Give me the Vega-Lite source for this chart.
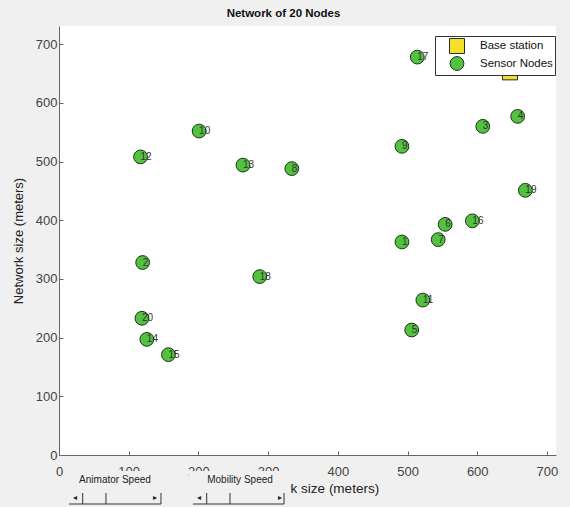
{
  "$schema": "https://vega.github.io/schema/vega-lite/v6.json",
  "width": 497,
  "height": 429,
  "autosize": {"type": "none"},
  "padding": {"left": 59, "top": 26, "right": 14, "bottom": 52},
  "background": "#f0f0f0",
  "config": {
    "view": {"fill": "white", "stroke": null},
    "font": "Liberation Sans"
  },
  "title": {
    "text": "Network of 20 Nodes",
    "fontSize": 11.5,
    "fontWeight": "bold",
    "color": "#111111",
    "offset": 7,
    "anchor": "middle",
    "dx": -24
  },
  "datasets": {
    "nodes": [
      {"id": "1", "x": 492, "y": 363, "type": "Sensor Nodes"},
      {"id": "2", "x": 120, "y": 328, "type": "Sensor Nodes"},
      {"id": "3", "x": 608, "y": 560, "type": "Sensor Nodes"},
      {"id": "4", "x": 658, "y": 577, "type": "Sensor Nodes"},
      {"id": "5", "x": 506, "y": 213, "type": "Sensor Nodes"},
      {"id": "6", "x": 554, "y": 393, "type": "Sensor Nodes"},
      {"id": "7", "x": 544, "y": 367, "type": "Sensor Nodes"},
      {"id": "8", "x": 334, "y": 488, "type": "Sensor Nodes"},
      {"id": "9", "x": 492, "y": 526, "type": "Sensor Nodes"},
      {"id": "10", "x": 201, "y": 552, "type": "Sensor Nodes"},
      {"id": "11", "x": 522, "y": 264, "type": "Sensor Nodes"},
      {"id": "12", "x": 117, "y": 508, "type": "Sensor Nodes"},
      {"id": "13", "x": 264, "y": 494, "type": "Sensor Nodes"},
      {"id": "14", "x": 126, "y": 197, "type": "Sensor Nodes"},
      {"id": "15", "x": 157, "y": 171, "type": "Sensor Nodes"},
      {"id": "16", "x": 593, "y": 399, "type": "Sensor Nodes"},
      {"id": "17", "x": 514, "y": 678, "type": "Sensor Nodes"},
      {"id": "18", "x": 288, "y": 304, "type": "Sensor Nodes"},
      {"id": "19", "x": 669, "y": 451, "type": "Sensor Nodes"},
      {"id": "20", "x": 119, "y": 233, "type": "Sensor Nodes"},
      {"id": "BS", "x": 647, "y": 652, "type": "Base station"}
    ],
    "panels": [
      {"x": 10, "xe": 153.5, "y": -27.3, "ye": -90},
      {"x": 186.5, "xe": 332, "y": -27.3, "ye": -90}
    ],
    "lines": [
      {"x": 14.3, "xe": 146.3, "y": -83.5, "ye": -83.5},
      {"x": 34.0, "xe": 34.0, "y": -64.7, "ye": -83.5},
      {"x": 67.4, "xe": 67.4, "y": -64.7, "ye": -83.5},
      {"x": 146.3, "xe": 146.3, "y": -64.7, "ye": -83.5},
      {"x": 192.2, "xe": 322.8, "y": -83.5, "ye": -83.5},
      {"x": 211.9, "xe": 211.9, "y": -64.7, "ye": -83.5},
      {"x": 245.3, "xe": 245.3, "y": -64.7, "ye": -83.5},
      {"x": 322.8, "xe": 322.8, "y": -64.7, "ye": -83.5}
    ],
    "wtext": [
      {"label": "Animator Speed", "x": 80.3, "y": -42.6},
      {"label": "Mobility Speed", "x": 259.7, "y": -42.6}
    ],
    "arrows": [
      {"label": "◂", "x": 23.0, "y": -73},
      {"label": "▸", "x": 137.7, "y": -73},
      {"label": "◂", "x": 200.9, "y": -73},
      {"label": "▸", "x": 317.1, "y": -73}
    ]
  },
  "layer": [
    {
      "data": {"name": "nodes"},
      "mark": {"type": "point", "filled": true, "opacity": 1, "stroke": "#1e321c", "strokeWidth": 1},
      "encoding": {
        "x": {
          "field": "x", "type": "quantitative",
          "scale": {"domain": [0, 713], "nice": false, "zero": false},
          "axis": {
            "values": [0, 100, 200, 300, 400, 500, 600, 700],
            "title": "Network size (meters)",
            "titleFontSize": 13.5, "titleFontWeight": "normal", "titleColor": "#222222",
            "titleX": 254, "titleY": 26, "titleBaseline": "top",
            "labelFontSize": 13, "labelColor": "#444444", "labelFlush": false,
            "labelPadding": 14,
            "domainColor": "#666666", "tickColor": "#666666", "tickSize": -4,
            "grid": false
          }
        },
        "y": {
          "field": "y", "type": "quantitative",
          "scale": {"domain": [0, 731], "nice": false, "zero": false},
          "axis": {
            "values": [0, 100, 200, 300, 400, 500, 600, 700],
            "title": "Network size (meters)",
            "titleFontSize": 13, "titleFontWeight": "normal", "titleColor": "#222222",
            "titleX": -41, "titleBaseline": "middle",
            "labelFontSize": 13, "labelColor": "#444444", "labelFlush": false,
            "labelPadding": 6,
            "domainColor": "#666666", "tickColor": "#666666", "tickSize": -4,
            "grid": false
          }
        },
        "color": {
          "field": "type", "type": "nominal",
          "scale": {"domain": ["Base station", "Sensor Nodes"], "range": ["#f3df2c", "#52c23f"]},
          "legend": {
            "title": null, "orient": "none", "legendX": 376, "legendY": 10,
            "fillColor": "white", "strokeColor": "#333333",
            "padding": 2, "rowPadding": -3, "symbolSize": 215,
            "symbolOffset": 12, "labelOffset": 15, "labelFontSize": 11.5, "labelColor": "#111111",
            "symbolStrokeColor": "#1e321c", "symbolStrokeWidth": 1, "zindex": 1
          }
        },
        "shape": {
          "field": "type", "type": "nominal",
          "scale": {"domain": ["Base station", "Sensor Nodes"], "range": ["square", "circle"]}
        },
        "size": {
          "field": "type", "type": "ordinal",
          "scale": {"domain": ["Base station", "Sensor Nodes"], "range": [225, 190]},
          "legend": null
        }
      }
    },
    {
      "data": {"name": "nodes"},
      "mark": {"type": "text", "align": "left", "baseline": "middle", "fontSize": 10, "color": "#333333"},
      "encoding": {
        "x": {"field": "x", "type": "quantitative"},
        "y": {"field": "y", "type": "quantitative"},
        "text": {"field": "id"}
      }
    },
    {
      "data": {"name": "panels"},
      "mark": {"type": "rect", "fill": "#f0f0f0"},
      "encoding": {
        "x": {"field": "x", "type": "quantitative"},
        "x2": {"field": "xe"},
        "y": {"field": "y", "type": "quantitative"},
        "y2": {"field": "ye"}
      }
    },
    {
      "data": {"name": "lines"},
      "mark": {"type": "rule", "color": "#333333", "strokeWidth": 1},
      "encoding": {
        "x": {"field": "x", "type": "quantitative"},
        "x2": {"field": "xe"},
        "y": {"field": "y", "type": "quantitative"},
        "y2": {"field": "ye"}
      }
    },
    {
      "data": {"name": "wtext"},
      "mark": {"type": "text", "fontSize": 10, "color": "#222222", "baseline": "middle", "align": "center"},
      "encoding": {
        "x": {"field": "x", "type": "quantitative"},
        "y": {"field": "y", "type": "quantitative"},
        "text": {"field": "label"}
      }
    },
    {
      "data": {"name": "arrows"},
      "mark": {"type": "text", "fontSize": 8, "color": "#222222", "baseline": "middle", "align": "center", "font": "DejaVu Sans"},
      "encoding": {
        "x": {"field": "x", "type": "quantitative"},
        "y": {"field": "y", "type": "quantitative"},
        "text": {"field": "label"}
      }
    }
  ]
}
